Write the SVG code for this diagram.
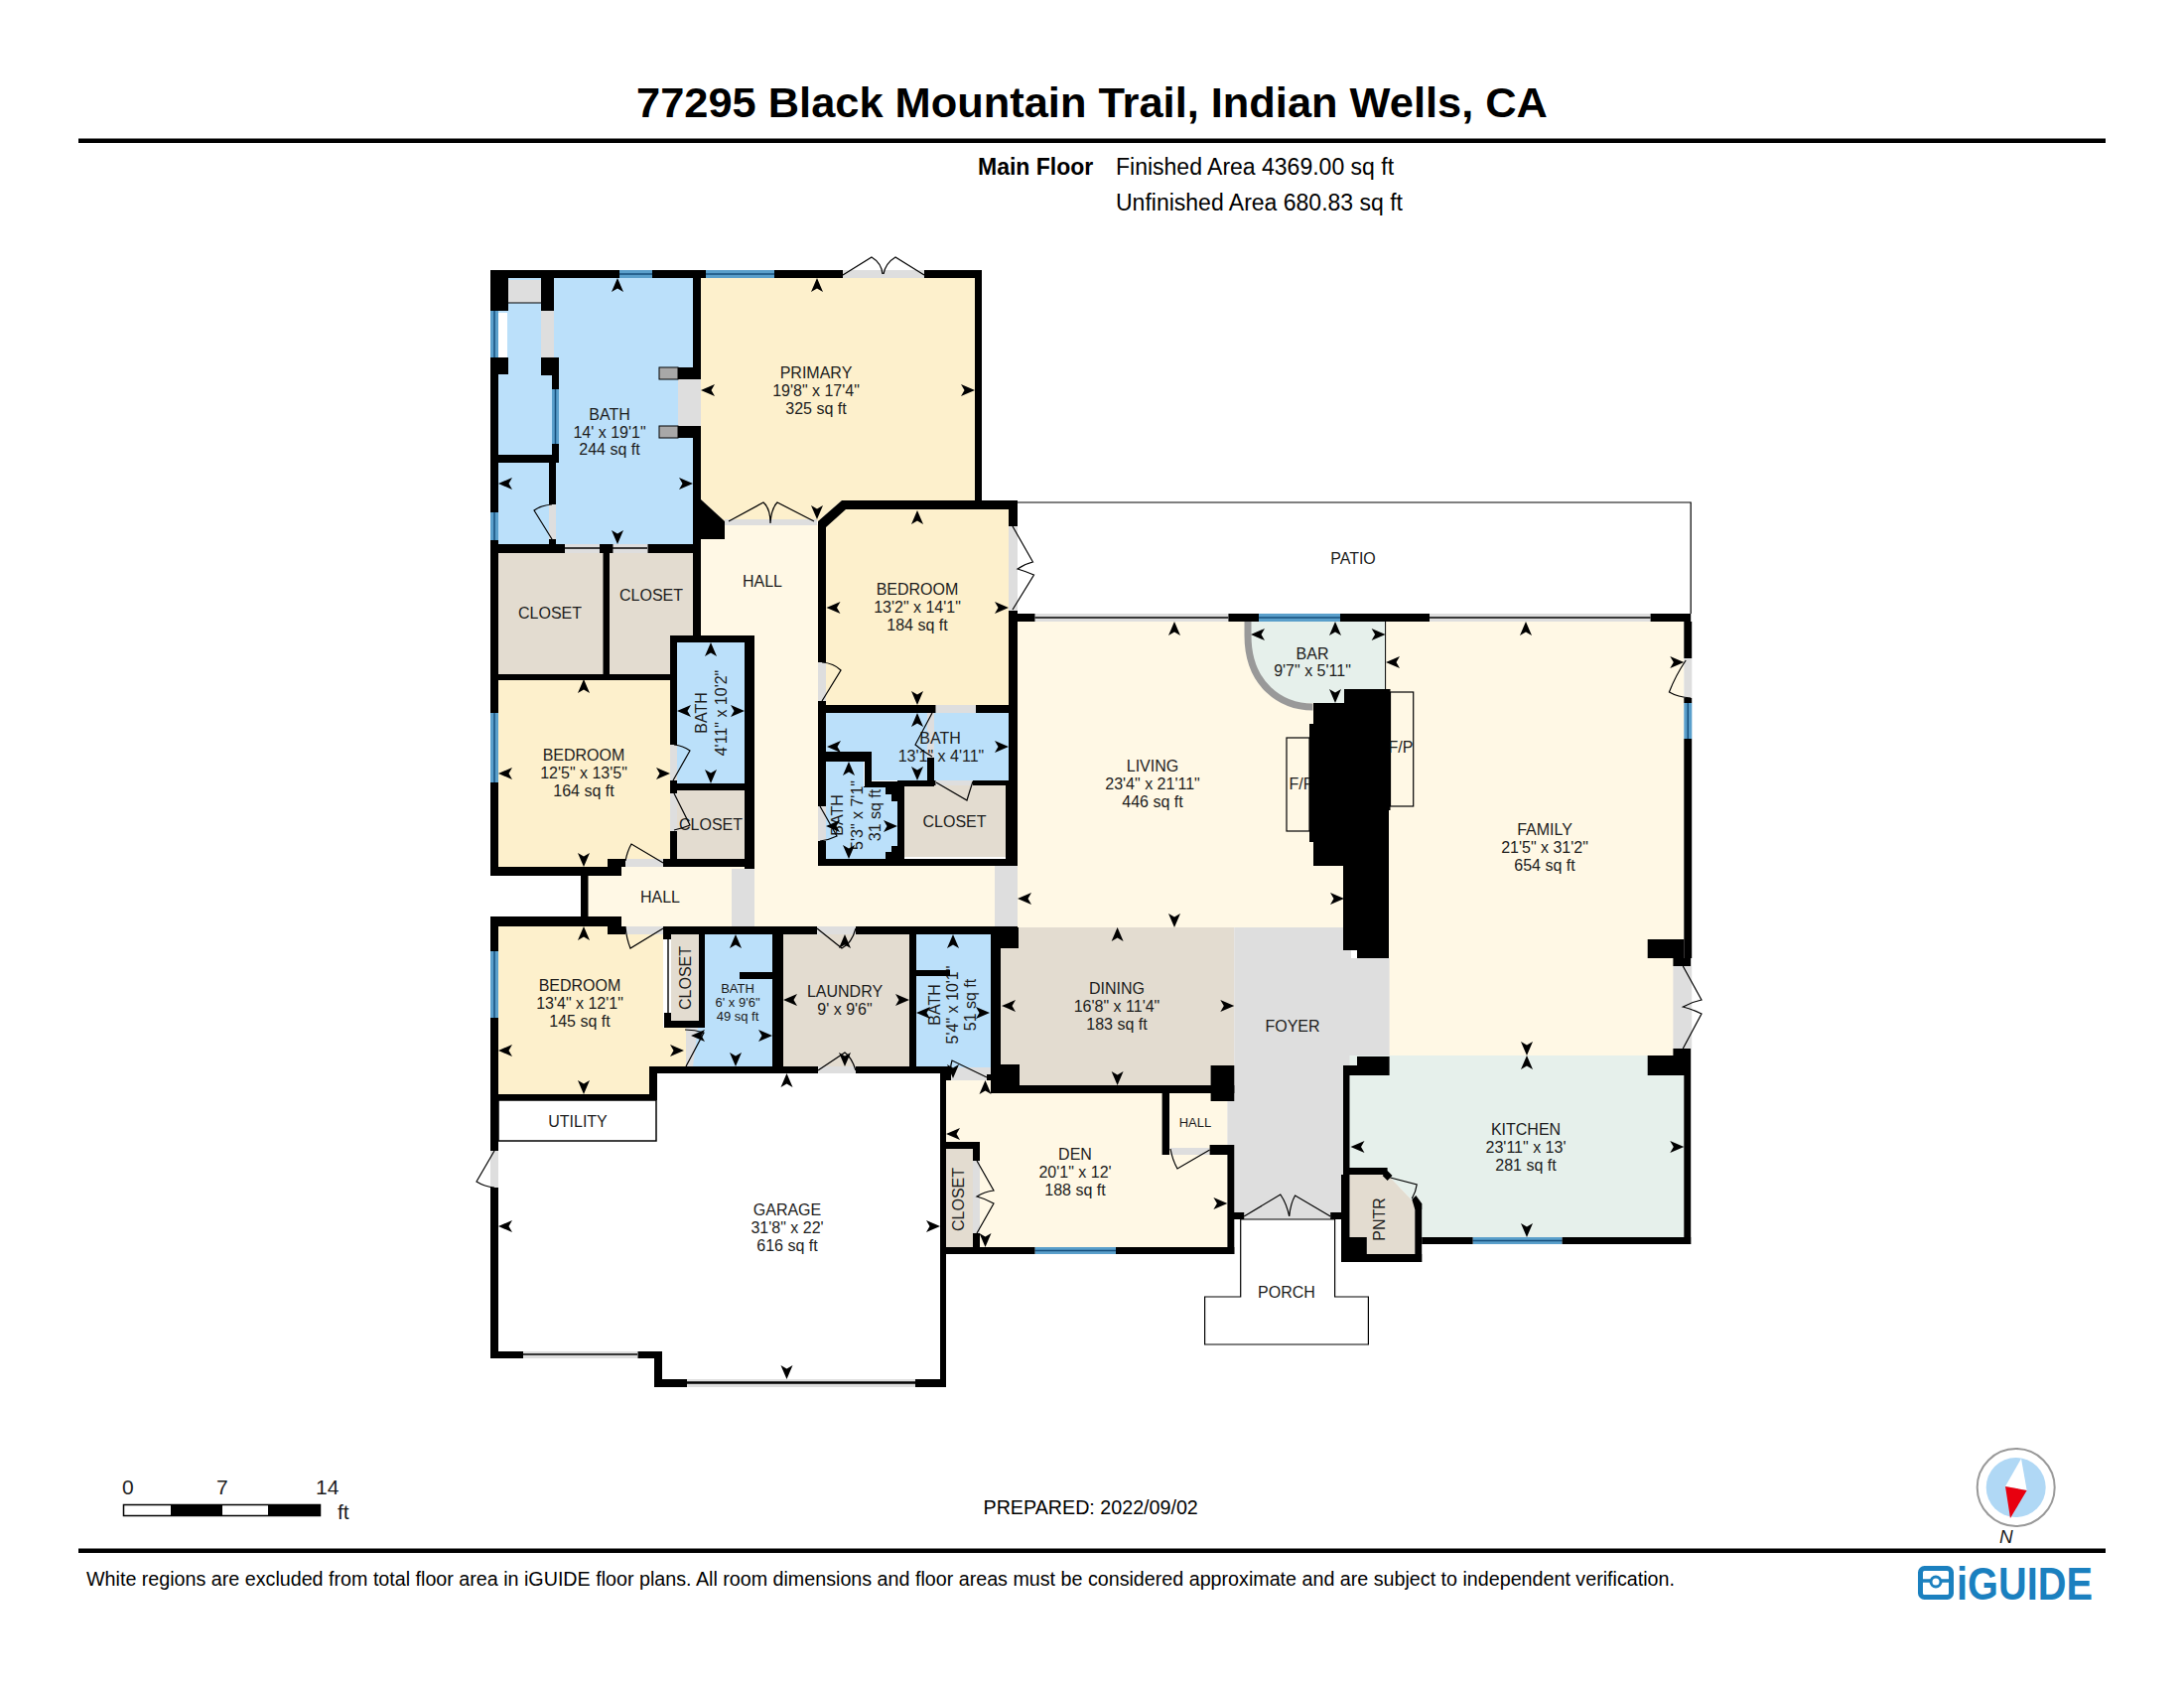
<svg xmlns="http://www.w3.org/2000/svg" xmlns:xlink="http://www.w3.org/1999/xlink" width="2200" height="1700" viewBox="0 0 2200 1700">
<style>
text{font-family:"Liberation Sans",Arial,sans-serif;fill:#1c1c1c}
.l{font-size:16px;text-anchor:middle}
.s{font-size:13px;text-anchor:middle}
.h{font-size:23px;fill:#000}
.f{font-size:19.7px;fill:#000}
.blue{fill:#BBE0FA}.tan{fill:#FDF0CC}.cream{fill:#FFF8E5}.taupe{fill:#E3DCD0}.green{fill:#E6F0EB}.gray{fill:#DEDEDE}
.win{fill:#5A9FCB}.wl{stroke:#174F7C;stroke-width:1.5;fill:none}
.door{fill:none;stroke:#000;stroke-width:1.2}
.thin{fill:none;stroke:#000;stroke-width:1.4}
</style>
<defs>
<polygon id="a" points="0,0 6,14 0,10.5 -6,14" fill="#000"/>
</defs>
<rect width="2200" height="1700" fill="#fff"/>

<g id="header">
<text x="1100" y="118" font-size="43.400" font-weight="700" text-anchor="middle" style="fill:#000">77295 Black Mountain Trail, Indian Wells, CA</text>
<rect x="79" y="139.500" width="2042" height="4.500" fill="#000"/>
<text x="985" y="176" class="h" font-weight="700">Main Floor</text>
<text x="1124" y="176" class="h">Finished Area 4369.00 sq ft</text>
<text x="1124" y="212" class="h">Unfinished Area 680.83 sq ft</text>
</g>

<g id="rooms">
<g id="room-bath-main" class="blue"><rect x="502" y="280" width="196" height="268"/></g>
<rect x="512" y="282" width="33" height="23" class="gray"/>
<line x1="512" y1="305" x2="545" y2="305" stroke="#000" stroke-width="1"/>
<rect x="545" y="313" width="13" height="47" class="gray"/>
<rect x="502" y="315" width="9" height="45" fill="#fff"/>
<g id="room-primary"><polygon class="tan" points="706,280 982,280 982,504 848,504 824,525 730,525 706,503"/></g>
<g id="room-hall-main"><polygon class="cream" points="706,528 824,528 824,872 1002,872 1002,933 592,933 592,882 626,882 626,872 706,872"/></g>
<g id="room-closet-a"><rect class="taupe" x="502" y="557" width="106" height="122"/></g>
<g id="room-closet-b"><rect class="taupe" x="614" y="557" width="84" height="122"/></g>
<g id="room-bedroom-a"><polygon class="tan" points="848,513 1016,513 1016,710 832,710 832,530"/></g>
<g id="room-bath-b"><polygon class="blue" points="832,718 1016,718 1016,786 878,786 878,757 832,757"/></g>
<g id="room-bath-c"><polygon class="blue" points="832,767 870,767 870,792 892,793 898,800 904,807 904,852 898,858 892,865 832,865"/></g>
<g id="room-closet-c"><rect class="taupe" x="911" y="791" width="102" height="72"/></g>
<g id="room-bath-d"><rect class="blue" x="682" y="647" width="68" height="142"/></g>
<g id="room-closet-d"><rect class="taupe" x="682" y="796" width="68" height="69"/></g>
<g id="room-bedroom-b"><rect class="tan" x="502" y="685" width="173" height="188"/></g>
<g id="room-bedroom-c"><polygon class="tan" points="502,933 668,933 668,1035 691,1035 691,1074 654,1074 654,1102 502,1102"/></g>
<g id="room-closet-e"><rect class="taupe" x="676" y="941" width="28" height="87"/></g>
<g id="room-bath-e"><polygon class="blue" points="710,941 778,941 778,1074 691,1074 698,1035 710,1035"/></g>
<polygon class="gray" points="691,1035 703,1035 698,1074 691,1074"/>
<g id="room-laundry"><rect class="taupe" x="789" y="941" width="127" height="133"/></g>
<g id="room-bath-f"><rect class="blue" x="923" y="941" width="75" height="140"/></g>
<g id="room-den"><polygon class="cream" points="953,1082 1000,1082 1000,1101 1236.400,1101 1236.400,1256 953,1256"/></g>
<g id="room-closet-f"><rect class="taupe" x="953" y="1157" width="27" height="99"/></g>
<g id="room-hall-den"><rect class="cream" x="1178" y="1101" width="58.400" height="55"/></g>
<g id="room-living"><rect class="cream" x="1025" y="626" width="336" height="308"/></g>
<g id="room-family"><rect class="cream" x="1395.600" y="626" width="300.700" height="437"/><rect class="cream" x="1685.400" y="973" width="11" height="83"/></g>
<g id="room-dining"><rect class="taupe" x="1008" y="934" width="235.300" height="159"/></g>
<g id="room-foyer"><polygon class="gray" points="1243.300,934 1361,934 1361,965 1399.600,965 1399.600,1063 1367,1063 1367,1073 1353,1073 1353,1228 1243.300,1228 1243.300,1153 1236.400,1153 1236.400,1109 1243.300,1109"/></g>
<g id="room-kitchen"><polygon class="green" points="1359.500,1063 1696.300,1063 1696.300,1246 1432.200,1246 1425.300,1212 1397.600,1183 1359.500,1183"/></g>
<g id="room-pantry"><polygon class="taupe" points="1359.500,1183 1397.600,1183 1425.300,1212 1425.300,1263 1376.800,1263 1376.800,1246 1359.500,1246"/></g>
<g id="room-bar"><path class="green" d="M1257,626H1395.600V694H1354V708H1322.400C1291,712 1257,690 1257,640Z"/></g>
<rect x="737" y="875" width="23" height="58" class="gray"/>
<rect x="1002" y="871" width="23" height="62" class="gray"/>
<g id="room-utility"><rect x="502" y="1108" width="159" height="41" fill="#fff" stroke="#000" stroke-width="1.500"/></g>
<g id="room-porch"><polygon points="1249.700,1228 1249.700,1306 1213.600,1306 1213.600,1354 1378.400,1354 1378.400,1306 1344.600,1306 1344.600,1228" fill="#fff" stroke="#000" stroke-width="1.200"/></g>
<g id="room-patio"><polyline points="1024,506 1703.200,506 1703.200,618" fill="none" stroke="#000" stroke-width="1.200"/></g>
<rect x="1296" y="743" width="23" height="94" class="cream" stroke="#000" stroke-width="1.200"/>
<rect x="1400.500" y="697" width="23.200" height="115" class="cream" stroke="#000" stroke-width="1.200"/>
</g>

<g id="openings">
<g class="gray">
<rect x="849" y="272" width="82" height="8"/><rect x="730" y="523" width="93" height="6"/><rect x="683" y="382" width="23" height="47"/>
<rect x="553" y="508" width="7" height="35"/><rect x="569" y="548" width="35" height="9"/><rect x="617.500" y="548" width="35" height="9"/>
<rect x="824" y="667" width="8" height="39"/><rect x="1016" y="530" width="9" height="85"/><rect x="675" y="750" width="7" height="36"/><rect x="675" y="799" width="7" height="38"/>
<rect x="630" y="865" width="38" height="8"/><rect x="630" y="933" width="38" height="8"/><rect x="823" y="933" width="39" height="8"/><rect x="824" y="1074" width="38" height="7"/>
<rect x="942.500" y="710" width="40.500" height="8"/><rect x="934" y="718" width="7" height="45"/><rect x="942.500" y="786" width="37.500" height="5"/><rect x="824" y="812" width="8" height="35"/>
<rect x="957" y="1075" width="41" height="13"/><rect x="494" y="1159" width="8" height="37"/><rect x="980" y="1169" width="7" height="73"/><rect x="1179" y="1156" width="39.600" height="7"/>
<rect x="1042.500" y="618" width="194.900" height="8"/><rect x="1440" y="618" width="222.600" height="8"/><rect x="527" y="1361" width="115.500" height="7"/><rect x="692" y="1389" width="230" height="8"/>
<rect x="1696.300" y="663" width="8" height="40"/><rect x="1685.400" y="973" width="18.800" height="83"/>
</g>
<g class="thin">
<line x1="569" y1="552" x2="604" y2="552"/><line x1="617" y1="552" x2="652" y2="552"/><line x1="527" y1="1364" x2="642" y2="1364"/>
<line x1="692" y1="1392.500" x2="922" y2="1392.500" stroke-width="2.500"/><line x1="1042.500" y1="622" x2="1237.400" y2="622"/><line x1="1440" y1="622" x2="1662.600" y2="622"/>
<line x1="673" y1="945" x2="673" y2="1020"/>
</g>
<g class="win">
<rect x="624" y="272" width="33" height="8"/><rect x="711" y="272" width="69" height="8"/><rect x="494" y="313" width="8" height="47"/><rect x="556" y="392" width="7" height="55"/>
<rect x="494" y="516" width="8" height="28"/><rect x="494" y="718" width="8" height="70"/><rect x="494" y="958" width="8" height="67"/><rect x="1268" y="618" width="82" height="8"/>
<rect x="1696.300" y="708" width="8" height="36"/><rect x="1042.500" y="1256" width="81.500" height="7"/><rect x="1483.600" y="1246" width="90" height="7"/>
</g>
<g class="wl">
<line x1="624" y1="276" x2="657" y2="276"/><line x1="711" y1="276" x2="780" y2="276"/><line x1="498" y1="313" x2="498" y2="360"/><line x1="559.500" y1="392" x2="559.500" y2="447"/>
<line x1="498" y1="516" x2="498" y2="544"/><line x1="498" y1="718" x2="498" y2="788"/><line x1="498" y1="958" x2="498" y2="1025"/><line x1="1268" y1="622" x2="1350" y2="622"/>
<line x1="1700.300" y1="708" x2="1700.300" y2="744"/><line x1="1042.500" y1="1259.500" x2="1124" y2="1259.500"/><line x1="1483.600" y1="1249.500" x2="1573.600" y2="1249.500"/>
</g>
</g>

<g id="labels">
<g id="t-primary"><text class="l" x="822" y="381">PRIMARY</text><text class="l" x="822" y="399">19'8" x 17'4"</text><text class="l" x="822" y="417">325 sq ft</text></g>
<g id="t-bath"><text class="l" x="614" y="423">BATH</text><text class="l" x="614" y="441">14' x 19'1"</text><text class="l" x="614" y="458">244 sq ft</text></g>
<text class="l" x="554" y="623">CLOSET</text><text class="l" x="656" y="605">CLOSET</text><text class="l" x="768" y="591">HALL</text>
<g id="t-bed-a"><text class="l" x="924" y="599">BEDROOM</text><text class="l" x="924" y="617">13'2" x 14'1"</text><text class="l" x="924" y="635">184 sq ft</text></g>
<text class="l" transform="translate(712,718) rotate(-90)">BATH</text><text class="l" transform="translate(731.500,718) rotate(-90)">4'11" x 10'2"</text>
<g id="t-bed-b"><text class="l" x="588" y="766">BEDROOM</text><text class="l" x="588" y="784">12'5" x 13'5"</text><text class="l" x="588" y="802">164 sq ft</text></g>
<text class="l" x="716" y="836">CLOSET</text>
<text class="l" x="947" y="749">BATH</text><text class="l" x="948" y="767">13'1" x 4'11"</text>
<text class="l" x="961.500" y="833">CLOSET</text>
<text class="l" transform="translate(849,821) rotate(-90)">BATH</text><text class="l" transform="translate(868.600,821) rotate(-90)">5'3" x 7'1"</text><text class="l" transform="translate(887,821) rotate(-90)">31 sq ft</text>
<text class="l" x="665" y="909">HALL</text>
<g id="t-bed-c"><text class="l" x="584" y="998">BEDROOM</text><text class="l" x="584" y="1016">13'4" x 12'1"</text><text class="l" x="584" y="1034">145 sq ft</text></g>
<text class="l" transform="translate(696,985) rotate(-90)">CLOSET</text>
<text class="s" x="743" y="1000">BATH</text><text class="s" x="743" y="1014">6' x 9'6"</text><text class="s" x="743" y="1028">49 sq ft</text>
<text class="l" x="851" y="1004">LAUNDRY</text><text class="l" x="851" y="1022">9' x 9'6"</text>
<text class="l" transform="translate(947,1012) rotate(-90)">BATH</text><text class="l" transform="translate(965,1012) rotate(-90)">5'4" x 10'1"</text><text class="l" transform="translate(983,1012) rotate(-90)">51 sq ft</text>
<text class="l" x="582" y="1135">UTILITY</text>
<g id="t-garage"><text class="l" x="793" y="1224">GARAGE</text><text class="l" x="793" y="1242">31'8" x 22'</text><text class="l" x="793" y="1260">616 sq ft</text></g>
<text class="l" transform="translate(971,1208) rotate(-90)">CLOSET</text>
<text class="l" x="1363" y="568">PATIO</text>
<text class="l" x="1322" y="664">BAR</text><text class="l" x="1322" y="681">9'7" x 5'11"</text>
<text class="l" x="1311" y="795">F/P</text><text class="l" x="1411" y="758">F/P</text>
<g id="t-living"><text class="l" x="1161" y="777">LIVING</text><text class="l" x="1161" y="795">23'4" x 21'11"</text><text class="l" x="1161" y="813">446 sq ft</text></g>
<g id="t-family"><text class="l" x="1556" y="841">FAMILY</text><text class="l" x="1556" y="859">21'5" x 31'2"</text><text class="l" x="1556" y="877">654 sq ft</text></g>
<g id="t-dining"><text class="l" x="1125" y="1001">DINING</text><text class="l" x="1125" y="1019">16'8" x 11'4"</text><text class="l" x="1125" y="1037">183 sq ft</text></g>
<text class="l" x="1302" y="1039">FOYER</text>
<g id="t-kitchen"><text class="l" x="1537" y="1143">KITCHEN</text><text class="l" x="1537" y="1161">23'11" x 13'</text><text class="l" x="1537" y="1179">281 sq ft</text></g>
<g id="t-den"><text class="l" x="1083" y="1168">DEN</text><text class="l" x="1083" y="1186">20'1" x 12'</text><text class="l" x="1083" y="1204">188 sq ft</text></g>
<text class="s" x="1204" y="1135">HALL</text>
<text class="l" x="1296" y="1307">PORCH</text>
<text class="l" transform="translate(1395,1228) rotate(-90)">PNTR</text>
</g>

<g id="walls" fill="#000">
<rect x="494" y="272" width="130" height="8"/><rect x="657" y="272" width="54" height="8"/><rect x="780" y="272" width="69" height="8"/><rect x="931" y="272" width="58" height="8"/>
<rect x="982" y="272" width="7" height="241"/>
<rect x="494" y="272" width="18" height="41"/><rect x="545" y="280" width="13" height="33"/><rect x="494" y="360" width="18" height="17"/><rect x="545" y="360" width="18" height="18"/>
<rect x="556" y="378" width="7" height="14"/><rect x="556" y="447" width="7" height="19"/><rect x="502" y="458" width="58" height="8"/><rect x="553" y="466" width="7" height="42"/><rect x="553" y="543" width="7" height="6"/>
<rect x="494" y="377" width="8" height="139"/><rect x="494" y="544" width="8" height="174"/><rect x="494" y="788" width="8" height="94"/><rect x="494" y="923" width="8" height="35"/><rect x="494" y="1025" width="8" height="134"/><rect x="494" y="1196" width="8" height="172"/>
<rect x="494" y="548" width="75" height="9"/><rect x="604" y="548" width="13.500" height="9"/><rect x="652.500" y="548" width="53.500" height="9"/>
<rect x="698" y="280" width="8" height="102"/><rect x="698" y="429" width="8" height="211"/><rect x="683" y="370" width="15" height="12"/><rect x="683" y="429" width="15" height="12"/>
<rect x="664" y="370" width="19" height="12" fill="#A8A8A8" stroke="#000" stroke-width="1"/><rect x="664" y="429" width="19" height="12" fill="#A8A8A8" stroke="#000" stroke-width="1"/>
<polygon points="706,503 730,525 730,543 706,543"/>
<rect x="607.500" y="557" width="6.500" height="128"/><rect x="494" y="679" width="181" height="6"/>
<rect x="675" y="640" width="85" height="7"/><rect x="750" y="640" width="10" height="235"/><rect x="675" y="647" width="7" height="103"/><rect x="675" y="786" width="7" height="13"/><rect x="675" y="837" width="7" height="29"/><rect x="682" y="789" width="68" height="7"/><rect x="668" y="865" width="92" height="8"/>
<rect x="494" y="873" width="132" height="9"/><rect x="612" y="865" width="18" height="8"/><rect x="585" y="882" width="7.500" height="41"/>
<rect x="494" y="923" width="132" height="10"/><rect x="612" y="933" width="18" height="8"/><rect x="668" y="933" width="155" height="8"/><rect x="862" y="933" width="140" height="8"/><rect x="1002" y="933" width="23" height="22"/><rect x="998" y="941" width="10" height="159"/>
<rect x="668" y="941" width="8" height="5"/><rect x="669" y="1020" width="7" height="15"/><rect x="676" y="1028" width="34" height="7"/><rect x="704" y="941" width="6" height="94"/>
<rect x="745" y="979" width="33" height="7"/><rect x="778" y="941" width="11" height="140"/><rect x="916" y="941" width="7" height="140"/><rect x="923" y="977" width="34" height="6"/>
<rect x="654" y="1074" width="170" height="7"/><rect x="862" y="1074" width="95" height="7"/><rect x="654" y="1074" width="8" height="34"/><rect x="502" y="1102" width="160" height="6"/><rect x="953" y="1074" width="5" height="14"/><rect x="994" y="1082" width="6" height="6"/>
<rect x="494" y="1361" width="33" height="7"/><rect x="642.500" y="1361" width="24.500" height="7"/><rect x="659" y="1361" width="8" height="36"/><rect x="659" y="1389" width="33" height="8"/><rect x="922" y="1389" width="31" height="8"/><rect x="947" y="1081" width="6" height="316"/>
<rect x="953" y="1150" width="34" height="7"/><rect x="980" y="1157" width="7" height="12"/><rect x="980" y="1242" width="7" height="14"/><rect x="953" y="1256" width="89.500" height="7"/><rect x="1124" y="1256" width="119.300" height="7"/>
<rect x="1236.400" y="1153" width="6.900" height="110"/><rect x="1218.600" y="1153" width="23.700" height="10"/><rect x="1170.600" y="1101" width="7.400" height="62"/><rect x="998" y="1093" width="245.300" height="8"/><rect x="1219.600" y="1073" width="23.700" height="36"/>
<rect x="998" y="934" width="28" height="21"/><rect x="1008" y="1072" width="19" height="21"/>
<rect x="1242.300" y="1221" width="10.900" height="7"/><rect x="1340.200" y="1221" width="12.800" height="7"/>
<rect x="1353" y="1073" width="14" height="10"/><rect x="1367" y="1064" width="32.600" height="19"/><rect x="1353" y="1083" width="6.500" height="100"/><rect x="1353" y="1176" width="44.600" height="7"/><rect x="1351" y="1183" width="8.500" height="88"/><rect x="1351" y="1246" width="25.800" height="25"/><rect x="1351" y="1263" width="81.200" height="8"/><rect x="1425.300" y="1212" width="6.900" height="59"/>
<polygon points="1397.600,1179 1402.500,1184 1397.600,1189 1392.600,1184"/><polygon points="1422.300,1208 1426.300,1204 1432.200,1212 1432.200,1218 1425.300,1218"/>
<rect x="1432.200" y="1246" width="51.400" height="7"/><rect x="1573.600" y="1246" width="129.600" height="7"/><rect x="1696.300" y="1083" width="6.900" height="170"/><rect x="1659.700" y="1063" width="43.500" height="20"/><rect x="1685.400" y="1056" width="17.800" height="7"/><rect x="1659.700" y="946" width="36.600" height="19"/><rect x="1685.400" y="965" width="17.800" height="8"/><rect x="1696.300" y="744" width="7.900" height="221"/><rect x="1696.300" y="703" width="7.900" height="5"/><rect x="1696.300" y="626" width="7.900" height="37"/>
<rect x="1017" y="618" width="25.500" height="8"/><rect x="1237.400" y="618" width="30.600" height="8"/><rect x="1350" y="618" width="90" height="8"/><rect x="1662.600" y="618" width="40.600" height="8"/>
<rect x="1016" y="504" width="9" height="26"/><rect x="1016" y="615" width="9" height="256"/><rect x="848" y="504" width="177" height="9"/>
<polygon points="848,504 852,513 832,531 832,535 824,535 824,525"/>
<rect x="824" y="530" width="8" height="137"/><rect x="824" y="706" width="8" height="106"/><rect x="824" y="847" width="8" height="25"/><rect x="824" y="865" width="201" height="7"/>
<rect x="832" y="710" width="110.500" height="8"/><rect x="983" y="710" width="33" height="8"/><rect x="832" y="757" width="46" height="10"/><rect x="871" y="757" width="7" height="33"/><rect x="871" y="787" width="70" height="5"/><rect x="934" y="763" width="7" height="27"/>
<rect x="904" y="786" width="38.500" height="5"/><rect x="980" y="786" width="36" height="5"/><rect x="904" y="791" width="7" height="74"/><rect x="1013" y="791" width="3" height="74"/>
<polygon points="870,792 911,792 911,865 892,865 892,858 898,858 898,852 904,852 904,807 898,807 898,800 892,800 892,793 870,793"/>
<polygon points="1354,694 1400.500,694 1400.500,816 1399,816 1399,965 1367,965 1367,957 1353,957 1353,872 1323,872 1323,848 1319,848 1319,729 1323,729 1323,708 1354,708"/>
<path d="M1257,626V640C1257,690 1291,712 1322.400,712" fill="none" stroke="#999" stroke-width="7"/>
<line x1="1395.600" y1="626" x2="1395.600" y2="694" stroke="#000" stroke-width="1"/>
</g>

<g id="doors" class="door">
<path d="M849,277L878,259Q888,265 889,276M931,277L902,259Q892,265 890,276"/>
<path d="M734,525L769,506Q776,512 776,527M820,525L783,506Q777,512 776,527"/>
<path d="M556,543L538,514Q545,509 556,508"/>
<path d="M828,706L847,675Q840,668 828,667"/>
<path d="M1020,530L1040.500,566Q1032,568 1025,573Q1032,575 1041.500,579L1020,614"/>
<path d="M679,750Q688,751 695,756L678,786"/>
<path d="M679,799L695,831Q688,834 679,836"/>
<path d="M630,867Q632,857 636,850L668,869"/>
<path d="M630,933Q631,945 635,955L668,935"/>
<path d="M823,935L848,955Q858,950 862,935"/>
<path d="M824,1078L851,1060Q858,1065 862,1078"/>
<path d="M691,1074L709,1040Q700,1037 690,1037"/>
<path d="M957,1086Q957,1075 959,1068L994,1085"/>
<path d="M939,718L922,750Q930,757 939,762"/>
<path d="M943,788L974,806Q977,796 980,787"/>
<path d="M826,812L843,842Q835,846 826,847"/>
<path d="M498,1159L480,1190Q488,1195 498,1196"/>
<path d="M984,1169L1001,1199Q992,1200 984,1205Q992,1207 1001,1212L984,1242"/>
<path d="M1179,1157Q1181,1168 1186,1177L1218.600,1158"/>
<path d="M1253.200,1225L1289.800,1203Q1296,1212 1298.700,1225Q1300,1212 1304.600,1204L1340.200,1225"/>
<path d="M1400.500,1186L1427.200,1193Q1426.300,1200 1422.300,1207"/>
<path d="M1698.200,665Q1688,680 1681.400,697Q1690,702 1703.200,703"/>
<path d="M1695.300,973L1714,1007Q1704,1009 1695.300,1014Q1704,1016 1714,1021L1695.300,1056"/>
</g>

<g id="dimension-arrows">
<use xlink:href="#a" transform="translate(622,280)"/><use xlink:href="#a" transform="translate(823,280)"/><use xlink:href="#a" transform="translate(706,393) rotate(-90)"/><use xlink:href="#a" transform="translate(982,393) rotate(90)"/><use xlink:href="#a" transform="translate(823,523) rotate(180)"/>
<use xlink:href="#a" transform="translate(622,548) rotate(180)"/><use xlink:href="#a" transform="translate(698,487) rotate(90)"/><use xlink:href="#a" transform="translate(502,487) rotate(-90)"/>
<use xlink:href="#a" transform="translate(924,514)"/><use xlink:href="#a" transform="translate(832.500,612) rotate(-90)"/><use xlink:href="#a" transform="translate(1016,612) rotate(90)"/><use xlink:href="#a" transform="translate(924,710) rotate(180)"/>
<use xlink:href="#a" transform="translate(924,718)"/><use xlink:href="#a" transform="translate(924,786) rotate(180)"/><use xlink:href="#a" transform="translate(833,752) rotate(-90)"/><use xlink:href="#a" transform="translate(1016,752) rotate(90)"/>
<use xlink:href="#a" transform="translate(716,647)"/><use xlink:href="#a" transform="translate(716,789) rotate(180)"/><use xlink:href="#a" transform="translate(682,716) rotate(-90)"/><use xlink:href="#a" transform="translate(750,716) rotate(90)"/>
<use xlink:href="#a" transform="translate(588,684)"/><use xlink:href="#a" transform="translate(588,873) rotate(180)"/><use xlink:href="#a" transform="translate(502,779) rotate(-90)"/><use xlink:href="#a" transform="translate(675,779) rotate(90)"/>
<use xlink:href="#a" transform="translate(855,767)"/><use xlink:href="#a" transform="translate(855,865) rotate(180)"/><use xlink:href="#a" transform="translate(832,832) rotate(-90)"/><use xlink:href="#a" transform="translate(904,832) rotate(90)"/>
<use xlink:href="#a" transform="translate(588,933)"/><use xlink:href="#a" transform="translate(588,1102) rotate(180)"/><use xlink:href="#a" transform="translate(502,1058) rotate(-90)"/><use xlink:href="#a" transform="translate(689,1058) rotate(90)"/>
<use xlink:href="#a" transform="translate(741,941)"/><use xlink:href="#a" transform="translate(741,1074) rotate(180)"/><use xlink:href="#a" transform="translate(696,1043) rotate(-90)"/><use xlink:href="#a" transform="translate(778,1043) rotate(90)"/>
<use xlink:href="#a" transform="translate(851,941)"/><use xlink:href="#a" transform="translate(851,1074) rotate(180)"/><use xlink:href="#a" transform="translate(789,1007) rotate(-90)"/><use xlink:href="#a" transform="translate(916,1007) rotate(90)"/>
<use xlink:href="#a" transform="translate(960,941)"/><use xlink:href="#a" transform="translate(960,1086) rotate(180)"/><use xlink:href="#a" transform="translate(923,1020) rotate(-90)"/><use xlink:href="#a" transform="translate(997,1020) rotate(90)"/>
<use xlink:href="#a" transform="translate(792.500,1081)"/><use xlink:href="#a" transform="translate(792.500,1389) rotate(180)"/><use xlink:href="#a" transform="translate(502,1235) rotate(-90)"/><use xlink:href="#a" transform="translate(947,1235) rotate(90)"/>
<use xlink:href="#a" transform="translate(992.500,1088)"/><use xlink:href="#a" transform="translate(992.500,1256) rotate(180)"/><use xlink:href="#a" transform="translate(953,1142) rotate(-90)"/><use xlink:href="#a" transform="translate(1236.400,1212) rotate(90)"/>
<use xlink:href="#a" transform="translate(1183,626)"/><use xlink:href="#a" transform="translate(1183,934) rotate(180)"/><use xlink:href="#a" transform="translate(1025,905) rotate(-90)"/><use xlink:href="#a" transform="translate(1354,905) rotate(90)"/>
<use xlink:href="#a" transform="translate(1345,626)"/><use xlink:href="#a" transform="translate(1345,708) rotate(180)"/><use xlink:href="#a" transform="translate(1260,639) rotate(-90)"/><use xlink:href="#a" transform="translate(1395.600,639) rotate(90)"/>
<use xlink:href="#a" transform="translate(1537,626)"/><use xlink:href="#a" transform="translate(1538,1063) rotate(180)"/><use xlink:href="#a" transform="translate(1396,667) rotate(-90)"/><use xlink:href="#a" transform="translate(1696.300,667) rotate(90)"/>
<use xlink:href="#a" transform="translate(1125.600,934)"/><use xlink:href="#a" transform="translate(1125.600,1093) rotate(180)"/><use xlink:href="#a" transform="translate(1009,1013) rotate(-90)"/><use xlink:href="#a" transform="translate(1243.300,1013) rotate(90)"/>
<use xlink:href="#a" transform="translate(1538,1063)"/><use xlink:href="#a" transform="translate(1538,1246) rotate(180)"/><use xlink:href="#a" transform="translate(1360.500,1155) rotate(-90)"/><use xlink:href="#a" transform="translate(1696.300,1155) rotate(90)"/>
</g>

<g id="footer">
<g id="scale-bar">
<rect x="124.500" y="1515.500" width="198" height="11" fill="#fff" stroke="#000" stroke-width="1.500"/>
<rect x="172" y="1515" width="52" height="12" fill="#000"/><rect x="270" y="1515" width="53" height="12" fill="#000"/>
<text x="123" y="1505" font-size="21">0</text><text x="218" y="1505" font-size="21">7</text><text x="318" y="1505" font-size="21">14</text><text x="340" y="1530" font-size="21">ft</text>
</g>
<text x="990.500" y="1525" class="f">PREPARED: 2022/09/02</text>
<g id="compass">
<circle cx="2030.700" cy="1498" r="39" fill="#fff" stroke="#999" stroke-width="2"/>
<circle cx="2030.700" cy="1498" r="30" fill="#B0D8F5"/>
<polygon points="2036,1469 2041.700,1501 2020,1497" fill="#fff"/>
<polygon points="2020,1497 2041.700,1501 2025,1529" fill="#E8000F"/>
<text x="2014" y="1554" font-size="19" font-style="italic">N</text>
</g>
<rect x="79" y="1559.500" width="2042" height="4.500" fill="#000"/>
<text x="87" y="1597" class="f">White regions are excluded from total floor area in iGUIDE floor plans. All room dimensions and floor areas must be considered approximate and are subject to independent verification.</text>
<g id="logo">
<rect x="1934.500" y="1579.500" width="31" height="29" rx="4" fill="none" stroke="#1B80BF" stroke-width="5"/>
<path d="M1934,1592H1944M1956,1592H1966" stroke="#1B80BF" stroke-width="3.500" fill="none"/>
<circle cx="1950" cy="1593" r="5" fill="none" stroke="#1B80BF" stroke-width="3"/>
<text x="1971" y="1611" font-size="47" textLength="137" lengthAdjust="spacingAndGlyphs" style="fill:#1B80BF" font-weight="700">iGUIDE</text>
</g>
</g>
</svg>
